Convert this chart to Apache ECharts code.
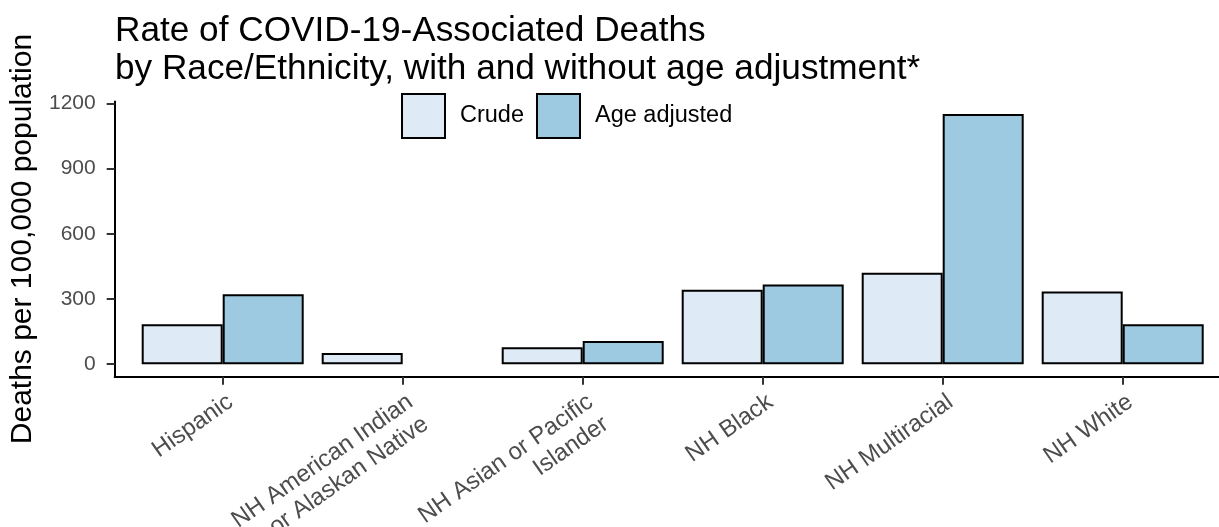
<!DOCTYPE html>
<html>
<head>
<meta charset="utf-8">
<script src="https://cdn.jsdelivr.net/npm/echarts@6/dist/echarts.min.js"></script>
<style>
  html, body { margin: 0; padding: 0; background: #ffffff; }
  #chart { width: 1219px; height: 527px; }
</style>
</head>
<body>
<div id="chart"></div>
<script>
// data
var categories = [
  'Hispanic',
  'NH American Indian\nor Alaskan Native',
  'NH Asian or Pacific\nIslander',
  'NH Black',
  'NH Multiracial',
  'NH White'
];
var crude = [184, 51, 78, 342, 421, 334];
var ageAdjusted = [322, null, 107, 366, 1151, 184];
var yTicks = [0, 300, 600, 900, 1200];

var font = 'Liberation Sans, Arial, sans-serif';
// ggplot style 5% padding around 0..1151
var yMin = -57.55, yMax = 1208.6;

var myChart = echarts.init(document.getElementById('chart'));
var option = {
  backgroundColor: '#ffffff',
  animation: false,
  title: {
    text: 'Rate of COVID-19-Associated Deaths\nby Race/Ethnicity, with and without age adjustment*',
    left: 115,
    top: 13,
    padding: 0,
    textStyle: {
      fontFamily: font,
      fontSize: 35.2,
      lineHeight: 37.5,
      fontWeight: 'normal',
      color: '#000000'
    }
  },
  legend: {
    left: 401,
    top: 93,
    padding: 0,
    itemWidth: 43,
    itemHeight: 44,
    itemGap: 12,
    icon: 'rect',
    textStyle: {
      fontFamily: font,
      fontSize: 23.5,
      color: '#000000',
      padding: [3, 0, 0, 10]
    },
    data: ['Crude', 'Age adjusted']
  },
  grid: [
    // bars
    { left: 132.7, right: 6.3, top: 101.4, bottom: 150.3, outerBoundsMode: 'none' },
    // full panel for axis lines (ggplot expands 0.6 of a band)
    { left: 114.7, right: -11.7, top: 101.4, bottom: 150.3, outerBoundsMode: 'none' }
  ],
  xAxis: [
    {
      type: 'category',
      gridIndex: 0,
      data: categories,
      axisLine: { show: false, onZero: false },
      axisTick: {
        show: true,
        alignWithLabel: true,
        length: 8,
        lineStyle: { color: '#333333', width: 2 }
      },
      axisLabel: {
        rotate: 35,
        interval: 0,
        margin: 12,
        align: 'right',
        verticalAlign: 'top',
        lineHeight: 27,
        fontFamily: font,
        fontSize: 24,
        color: '#4D4D4D'
      }
    },
    {
      type: 'value',
      gridIndex: 1,
      min: 0,
      max: 1,
      axisLine: { show: true, onZero: false, lineStyle: { color: '#000000', width: 2 } },
      axisTick: { show: false },
      axisLabel: { show: false },
      splitLine: { show: false }
    }
  ],
  yAxis: [
    {
      type: 'value',
      gridIndex: 0,
      min: yMin,
      max: yMax,
      show: false,
      splitLine: { show: false }
    },
    {
      type: 'value',
      gridIndex: 1,
      min: yMin,
      max: yMax,
      name: 'Deaths per 100,000 population',
      nameLocation: 'middle',
      nameRotate: 90,
      nameGap: 70,
      nameTextStyle: { fontFamily: font, fontSize: 30, color: '#000000' },
      axisLine: { show: true, onZero: false, lineStyle: { color: '#000000', width: 2 } },
      axisTick: {
        show: true,
        length: 8,
        customValues: yTicks,
        lineStyle: { color: '#333333', width: 2 }
      },
      axisLabel: {
        customValues: yTicks,
        formatter: function (v) { return String(v); },
        margin: 19,
        fontFamily: font,
        fontSize: 21,
        color: '#4D4D4D'
      },
      splitLine: { show: false }
    }
  ],
  series: [
    {
      name: 'Crude',
      type: 'bar',
      xAxisIndex: 0,
      yAxisIndex: 0,
      barWidth: '45%',
      barGap: '0%',
      itemStyle: { color: '#DEEBF7', borderColor: '#000000', borderWidth: 2 },
      data: crude
    },
    {
      name: 'Age adjusted',
      type: 'bar',
      xAxisIndex: 0,
      yAxisIndex: 0,
      barWidth: '45%',
      barGap: '0%',
      itemStyle: { color: '#9ECAE1', borderColor: '#000000', borderWidth: 2 },
      data: ageAdjusted
    }
  ]
};

option && myChart.setOption(option);
</script>
</body>
</html>
